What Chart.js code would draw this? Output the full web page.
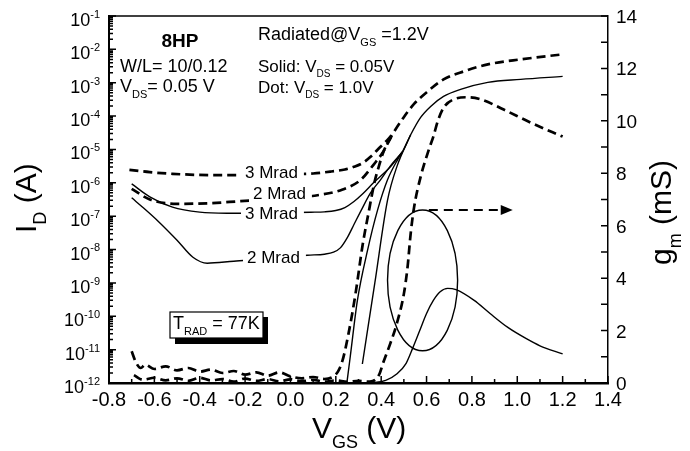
<!DOCTYPE html>
<html>
<head>
<meta charset="utf-8">
<script src="https://cdn.jsdelivr.net/npm/chart.js@4.4.1/dist/chart.umd.min.js"></script>
<style>
  html, body { margin: 0; padding: 0; background: #fff; }
  canvas { display: block; }
</style>
</head>
<body>
<canvas id="myChart" width="690" height="451"></canvas>
<script>
// 축 눈금
const vgsTicks = [-0.8, -0.6, -0.4, -0.2, 0.0, 0.2, 0.4, 0.6, 0.8, 1.0, 1.2, 1.4];
const idExponents = [-12, -11, -10, -9, -8, -7, -6, -5, -4, -3, -2, -1];
const gmTicks = [0, 2, 4, 6, 8, 10, 12, 14];

// Id 곡선 (log10 값), Vds = 1.0V (점선)
const vgsDotPre = [-0.70, -0.68, -0.66, -0.64, -0.60, -0.55, -0.50, -0.45, -0.40, -0.35,
  -0.30, -0.25, -0.20, -0.15, -0.10, -0.05, 0.00, 0.05, 0.10, 0.15,
  0.19, 0.21, 0.229, 0.256, 0.287, 0.318, 0.344, 0.370, 0.390, 0.410,
  0.430, 0.454, 0.499, 0.543, 0.605, 0.675, 0.764, 0.870, 1.015, 1.20];
const logIdDotPre = [-11.05, -11.40, -11.55, -11.45, -11.58, -11.50, -11.62, -11.55, -11.66, -11.60,
  -11.70, -11.64, -11.75, -11.68, -11.78, -11.68, -11.80, -11.86, -11.82, -11.88,
  -11.80, -11.65, -11.34, -10.52, -9.32, -7.87, -6.91, -6.00, -5.50, -5.07,
  -4.78, -4.50, -4.04, -3.65, -3.26, -2.90, -2.66, -2.45, -2.30, -2.15];

const vgsDot3 = [-0.71, -0.62, -0.52, -0.42, -0.30, -0.20, -0.10, 0.00, 0.10, 0.18,
  0.24, 0.28, 0.32, 0.353, 0.397, 0.43, 0.454];
const logIdDot3 = [-5.61, -5.68, -5.73, -5.76, -5.77, -5.77, -5.76, -5.74, -5.72, -5.66,
  -5.60, -5.52, -5.40, -5.22, -4.92, -4.70, -4.50];

const vgsDot2 = [-0.70, -0.62, -0.50, -0.35, -0.22, -0.10, 0.00, 0.13, 0.23, 0.31, 0.366, 0.406, 0.43, 0.454];
const logIdDot2 = [-6.18, -6.50, -6.63, -6.61, -6.55, -6.50, -6.46, -6.36, -6.20, -5.91, -5.46, -5.10, -4.80, -4.50];

// Id 곡선 (log10 값), Vds = 0.05V (실선)
const vgsSolPre = [0.245, 0.264, 0.295, 0.340, 0.384, 0.428, 0.472, 0.494, 0.530, 0.574, 0.618, 0.675, 0.750, 0.870, 1.015, 1.20];
const logIdSolPre = [-12.2, -11.19, -9.53, -8.02, -6.82, -5.91, -5.31, -5.07, -4.56, -4.04, -3.71, -3.41, -3.20, -2.99, -2.90, -2.81];

const vgsSol3 = [-0.70, -0.62, -0.52, -0.40, -0.28, -0.20, -0.10, 0.00, 0.09, 0.15, 0.20, 0.24, 0.28, 0.32, 0.366, 0.441, 0.494];
const logIdSol3 = [-6.03, -6.42, -6.73, -6.88, -6.91, -6.91, -6.90, -6.89, -6.88, -6.87, -6.83, -6.74, -6.56, -6.32, -6.00, -5.52, -5.07];

const vgsSol2 = [-0.70, -0.64, -0.588, -0.50, -0.43, -0.367, -0.25, -0.10, 0.075, 0.15, 0.19, 0.22, 0.25, 0.28, 0.31, 0.353, 0.397, 0.44, 0.494];
const logIdSol2 = [-6.45, -6.80, -7.12, -7.72, -8.23, -8.41, -8.35, -8.28, -8.17, -8.14, -8.08, -7.95, -7.65, -7.25, -6.85, -6.30, -5.91, -5.50, -5.07];

const vgsSolX = [0.317, 0.372, 0.428, 0.47, 0.53];
const logIdSolX = [-11.43, -9.00, -6.52, -5.50, -4.56];

// gm 곡선 (mS)
const vgsGmDot = [-0.69, -0.65, -0.60, -0.55, -0.50, -0.45, -0.40, -0.35, -0.30, -0.25,
  -0.20, -0.15, -0.10, -0.05, 0.00, 0.05, 0.10, 0.15, 0.20, 0.25,
  0.30, 0.35, 0.39, 0.41, 0.44, 0.47, 0.50, 0.516, 0.53, 0.545,
  0.575, 0.61, 0.63, 0.65, 0.675, 0.72, 0.78, 0.84, 0.94, 1.06, 1.20];
const gmDot = [0.30, 0.12, 0.20, 0.10, 0.18, 0.08, 0.20, 0.10, 0.15, 0.05,
  0.17, 0.08, 0.15, 0.06, 0.14, 0.07, 0.12, 0.05, 0.10, 0.04,
  0.08, 0.05, 0.30, 0.80, 1.50, 2.30, 3.40, 4.40, 5.70, 6.70,
  7.90, 8.90, 9.40, 10.00, 10.50, 10.82, 10.90, 10.82, 10.43, 9.93, 9.40];

const vgsGmSol = [0.35, 0.42, 0.47, 0.51, 0.54, 0.57, 0.60, 0.63, 0.66, 0.693, 0.73, 0.81, 0.88, 0.96, 1.04, 1.10, 1.20];
const gmSol = [0.00, 0.10, 0.35, 0.75, 1.35, 2.00, 2.65, 3.15, 3.48, 3.61, 3.56, 3.15, 2.65, 2.11, 1.69, 1.42, 1.11];

const FONT = '"Liberation Sans", Arial, Helvetica, sans-serif';

function lineStyle(dashed) {
  return {
    borderColor: '#000',
    borderWidth: dashed ? 2.7 : 1.4,
    borderDash: dashed ? [9, 5] : [],
    pointRadius: 0,
    cubicInterpolationMode: 'monotone',
    fill: false
  };
}
function idLine(vgs, logId, dashed) {
  return Object.assign({
    data: vgs.map((v, i) => ({ x: v, y: Math.pow(10, logId[i]) })),
    yAxisID: 'y'
  }, lineStyle(dashed));
}
function gmLine(vgs, gm, dashed) {
  return Object.assign({
    data: vgs.map((v, i) => ({ x: v, y: gm[i] })),
    yAxisID: 'y1'
  }, lineStyle(dashed));
}

// 첨자가 섞인 텍스트: [문자열, 'sub'|'sup'|undefined, bold]
function richText(ctx, x, y, parts, size, draw = true) {
  let cx = x;
  parts.forEach(([txt, kind, bold]) => {
    let s = size, dy = 0;
    if (kind === 'sub') { s = Math.round(size * 0.6); dy = size * 0.32; }
    if (kind === 'sup') { s = Math.round(size * 0.62); dy = -size * 0.45; }
    ctx.font = (bold ? 'bold ' : '') + s + 'px ' + FONT;
    if (draw) ctx.fillText(txt, cx, y + dy);
    cx += ctx.measureText(txt).width;
  });
  return cx - x;
}

// 눈금, 라벨, 주석 그리기
const decorations = {
  id: 'decorations',
  afterDatasetsDraw(chart) {
    const { ctx, chartArea: a, scales: { x, y, y1 } } = chart;
    ctx.save();
    ctx.fillStyle = '#000';
    ctx.strokeStyle = '#000';
    ctx.textBaseline = 'alphabetic';
    ctx.textAlign = 'left';

    // 위쪽 테두리
    ctx.lineWidth = 1.5;
    ctx.beginPath();
    ctx.moveTo(a.left, a.top);
    ctx.lineTo(a.right, a.top);
    ctx.stroke();

    // 안쪽 눈금
    ctx.lineWidth = 1.5;
    ctx.beginPath();
    for (let i = 0; i < vgsTicks.length; i++) {
      const px = x.getPixelForValue(vgsTicks[i]);
      ctx.moveTo(px, a.bottom); ctx.lineTo(px, a.bottom - 7);
      if (i < vgsTicks.length - 1) {
        const mx = x.getPixelForValue(vgsTicks[i] + 0.1);
        ctx.moveTo(mx, a.bottom); ctx.lineTo(mx, a.bottom - 4);
      }
    }
    idExponents.forEach((e, i) => {
      const py = y.getPixelForValue(Math.pow(10, e));
      ctx.moveTo(a.left, py); ctx.lineTo(a.left + 7, py);
      if (i < idExponents.length - 1) {
        for (let k = 2; k <= 9; k++) {
          const my = y.getPixelForValue(k * Math.pow(10, e));
          ctx.moveTo(a.left, my); ctx.lineTo(a.left + 4, my);
        }
      }
    });
    gmTicks.forEach((g, i) => {
      const py = y1.getPixelForValue(g);
      ctx.moveTo(a.right, py); ctx.lineTo(a.right - 7, py);
      if (i < gmTicks.length - 1) {
        const my = y1.getPixelForValue(g + 1);
        ctx.moveTo(a.right, my); ctx.lineTo(a.right - 7, my);
      }
    });
    ctx.stroke();

    // 눈금 라벨
    ctx.font = '20px ' + FONT;
    ctx.textAlign = 'center';
    vgsTicks.forEach(v => {
      ctx.fillText(v.toFixed(1), x.getPixelForValue(v), a.bottom + 23);
    });
    ctx.textAlign = 'left';
    gmTicks.forEach(g => {
      ctx.font = '19px ' + FONT;
      ctx.fillText(String(g), a.right + 8, y1.getPixelForValue(g) + 7);
    });
    idExponents.forEach(e => {
      const py = y.getPixelForValue(Math.pow(10, e));
      const parts = [['10'], [String(e), 'sup']];
      const w = richText(ctx, 0, 0, parts, 18, false);
      richText(ctx, a.left - 9 - w, py + 10, parts, 18);
    });

    // 축 제목
    richText(ctx, 312, 438, [['V'], ['GS', 'sub'], [' (V)']], 30);
    ctx.save();
    ctx.translate(36, 233);
    ctx.rotate(-Math.PI / 2);
    richText(ctx, 0, 0, [['I'], ['D', 'sub'], [' (A)']], 30);
    ctx.restore();
    ctx.save();
    ctx.translate(671, 265);
    ctx.rotate(-Math.PI / 2);
    richText(ctx, 0, 0, [['g'], ['m', 'sub'], [' (mS)']], 30);
    ctx.restore();

    // 곡선 라벨 (흰 배경)
    const curveLabels = [['3 Mrad', 245, 178], ['2 Mrad', 253, 199], ['3 Mrad', 245, 219], ['2 Mrad', 247, 263]];
    ctx.font = '17px ' + FONT;
    curveLabels.forEach(([t, lx, ly]) => {
      const w = ctx.measureText(t).width;
      ctx.fillStyle = '#fff';
      ctx.fillRect(lx - 4, ly - 14, w + 10, 18);
      ctx.fillStyle = '#000';
      ctx.fillText(t, lx, ly);
    });

    // 설명 텍스트
    ctx.font = 'bold 19px ' + FONT;
    ctx.textAlign = 'center';
    ctx.fillText('8HP', 180, 47);
    ctx.textAlign = 'left';
    richText(ctx, 120, 72, [['W/L= 10/0.12']], 18);
    richText(ctx, 120, 92, [['V'], ['DS', 'sub'], ['= 0.05 V']], 18);
    richText(ctx, 258, 40, [['Radiated@V'], ['GS', 'sub'], [' =1.2V']], 18);
    richText(ctx, 258, 72, [['Solid: V'], ['DS', 'sub'], [' = 0.05V']], 17);
    richText(ctx, 258, 93, [['Dot: V'], ['DS', 'sub'], [' = 1.0V']], 17);

    // T_RAD 상자 (그림자 포함)
    ctx.fillRect(175, 317, 93, 27);
    ctx.fillStyle = '#fff';
    ctx.fillRect(170, 312, 93, 26);
    ctx.lineWidth = 1.2;
    ctx.strokeRect(170, 312, 93, 26);
    ctx.fillStyle = '#000';
    richText(ctx, 173, 329, [['T'], ['RAD', 'sub'], [' = 77K']], 18);

    // gm 영역 타원과 화살표
    const exL = x.getPixelForValue(0.428), exR = x.getPixelForValue(0.737);
    const eyT = y1.getPixelForValue(6.6), eyB = y1.getPixelForValue(1.23);
    ctx.lineWidth = 1.4;
    ctx.beginPath();
    ctx.ellipse((exL + exR) / 2, (eyT + eyB) / 2, (exR - exL) / 2, (eyB - eyT) / 2, 0, 0, Math.PI * 2);
    ctx.stroke();

    const ay = y1.getPixelForValue(6.6);
    const ax0 = x.getPixelForValue(0.61), ax1 = x.getPixelForValue(0.93), tip = x.getPixelForValue(0.98);
    ctx.lineWidth = 2;
    ctx.setLineDash([9, 6]);
    ctx.beginPath();
    ctx.moveTo(ax0, ay); ctx.lineTo(ax1, ay);
    ctx.stroke();
    ctx.setLineDash([]);
    ctx.beginPath();
    ctx.moveTo(tip, ay);
    ctx.lineTo(tip - 12, ay - 5);
    ctx.lineTo(tip - 12, ay + 5);
    ctx.closePath();
    ctx.fill();

    ctx.restore();
  }
};

const ctx = document.getElementById('myChart').getContext('2d');
const myChart = new Chart(ctx, {
  type: 'line',
  data: {
    datasets: [
      idLine(vgsDotPre, logIdDotPre, true),
      idLine(vgsDot3, logIdDot3, true),
      idLine(vgsDot2, logIdDot2, true),
      idLine(vgsSolPre, logIdSolPre, false),
      idLine(vgsSol3, logIdSol3, false),
      idLine(vgsSol2, logIdSol2, false),
      idLine(vgsSolX, logIdSolX, false),
      gmLine(vgsGmDot, gmDot, true),
      gmLine(vgsGmSol, gmSol, false)
    ]
  },
  options: {
    responsive: false,
    animation: false,
    // 축 공간은 직접 그리므로 여백으로 플롯 영역 위치를 맞춤
    layout: { padding: { left: 101, right: 74, top: 16, bottom: 60 } },
    plugins: { legend: { display: false }, tooltip: { enabled: false } },
    scales: {
      x: {
        type: 'linear', min: -0.8, max: 1.4,
        grid: { display: false }, ticks: { display: false },
        border: { display: true, color: '#000', width: 2.5 }
      },
      y: {
        type: 'logarithmic', position: 'left', min: 1e-12, max: 1e-1,
        grid: { display: false }, ticks: { display: false },
        border: { display: true, color: '#000', width: 2 }
      },
      y1: {
        type: 'linear', position: 'right', min: 0, max: 14,
        grid: { display: false }, ticks: { display: false },
        border: { display: true, color: '#000', width: 1.5 }
      }
    }
  },
  plugins: [decorations]
});
</script>
</body>
</html>
